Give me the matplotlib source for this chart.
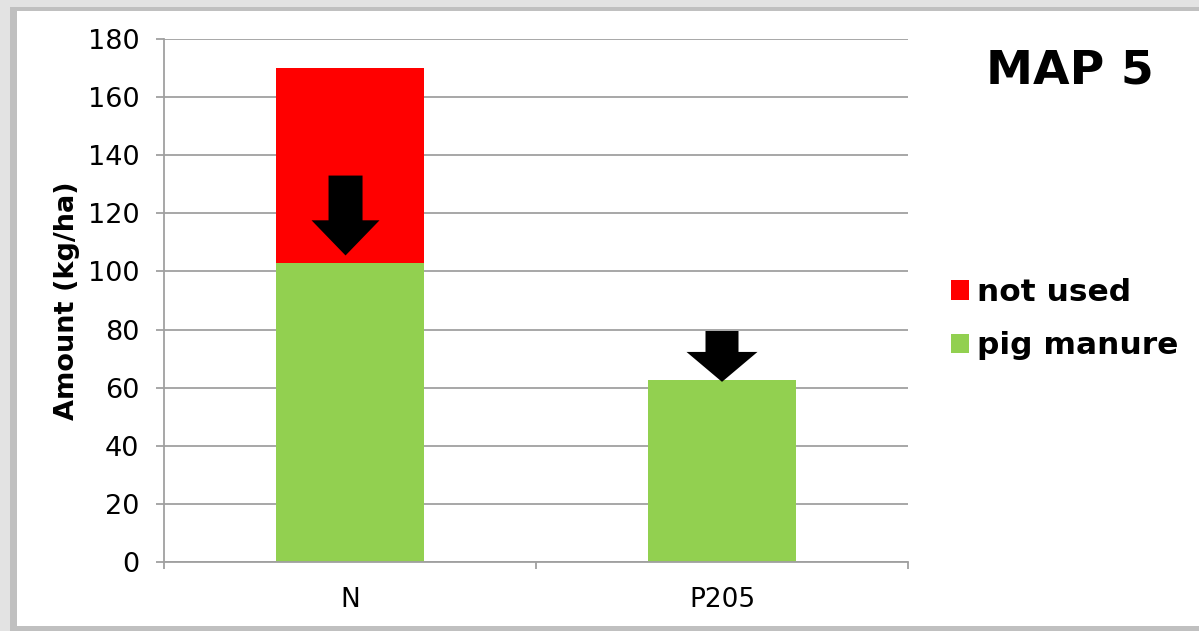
import matplotlib
matplotlib.use("Agg")
import matplotlib.pyplot as plt
from matplotlib.patches import Rectangle, FancyArrow, Patch

# ---- data ----
categories = ["N", "P205"]
pig_manure = [103, 62.5]
not_used = [67, 0]
arrow_top = [133, 79.5]
arrow_tip = [105.5, 62]
y_ticks = [0, 20, 40, 60, 80, 100, 120, 140, 160, 180]
title_text = "MAP 5"

W, H = 1199, 631
fig = plt.figure(figsize=(W / 100, H / 100), dpi=100)
fig.patch.set_facecolor("#e3e3e3")

# panel border + white panel
fig.patches.append(Rectangle((10 / W, -0.05), 1.1, (H - 7) / H + 0.05,
                             transform=fig.transFigure, facecolor="#c0c0c0",
                             edgecolor="none", zorder=-2))
fig.patches.append(Rectangle((17 / W, 5 / H), 1.1, (626 - 11) / H,
                             transform=fig.transFigure, facecolor="white",
                             edgecolor="none", zorder=-1))

ax_l, ax_r, ax_t, ax_b = 164, 908, 39, 562
ax = fig.add_axes([ax_l / W, (H - ax_b) / H, (ax_r - ax_l) / W, (ax_b - ax_t) / H])
ax.set_facecolor("none")

red = "#ff0000"
green = "#92d050"
grid_c = "#a0a0a0"

x = list(range(len(categories)))
ax.bar(x, pig_manure, width=0.4, color=green, zorder=2, label="pig manure")
ax.bar(x, not_used, width=0.4, bottom=pig_manure, color=red, zorder=2, label="not used")

# arrows
px_per_x = (ax_r - ax_l) / 2.0
shaft_w = [34 / px_per_x, 33 / px_per_x]
head_w = [68 / px_per_x, 71 / px_per_x]
head_l = [12.1, 10.3]
x_off = [-0.012, 0.0]
for i in range(len(categories)):
    arr = FancyArrow(x[i] + x_off[i], arrow_top[i], 0, arrow_tip[i] - arrow_top[i],
                     width=shaft_w[i], head_width=head_w[i], head_length=head_l[i],
                     length_includes_head=True, color="black", zorder=3, lw=0)
    ax.add_patch(arr)

ax.set_xlim(-0.5, 1.5)
ax.set_ylim(0, 180)
ax.set_yticks(y_ticks)
ax.yaxis.grid(True, color=grid_c, lw=1.3, zorder=0)
ax.set_axisbelow(True)

for s in ["top", "right"]:
    ax.spines[s].set_visible(False)
for s in ["left", "bottom"]:
    ax.spines[s].set_color(grid_c)
    ax.spines[s].set_linewidth(1.3)

ax.tick_params(axis="y", length=5.8, width=1.3, color=grid_c, pad=12,
               labelsize=19.5, labelcolor="black")
ax.set_xticks(x)
ax.set_xticklabels(categories)
ax.tick_params(axis="x", which="major", length=0, pad=18, labelsize=19)
ax.set_xticks([-0.5, 0.5, 1.5], minor=True)
ax.tick_params(axis="x", which="minor", length=5, width=1.3, color=grid_c)

ax.set_ylabel("Amount (kg/ha)", fontsize=19.5, fontweight="bold")
ax.yaxis.set_label_coords((80 - ax_l) / (ax_r - ax_l), 0.5)

fig.text(1070 / W, 1 - 71 / H, title_text, fontsize=34, fontweight="bold",
         ha="center", va="center")

handles = [Patch(facecolor=red, label="not used"), Patch(facecolor=green, label="pig manure")]
fig.legend(handles=handles, loc="upper left", bbox_to_anchor=(951 / W, 1 - 278 / H),
           bbox_transform=fig.transFigure, frameon=False, borderpad=0, borderaxespad=0,
           handlelength=0.58, handleheight=0.58, handletextpad=0.25, labelspacing=0.78,
           prop={"size": 22.5, "weight": "bold"})

fig.savefig("out.png", dpi=100, facecolor=fig.get_facecolor())
